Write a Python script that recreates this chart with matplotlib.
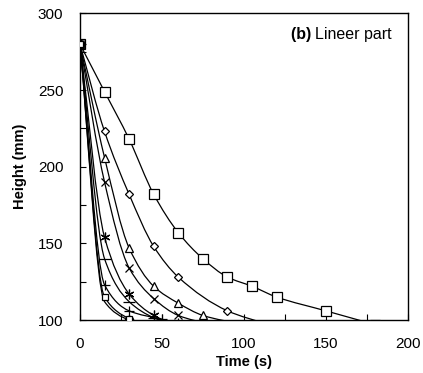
import numpy as np
import matplotlib
matplotlib.use("Agg")
import matplotlib.pyplot as plt
from matplotlib.path import Path
from matplotlib.patches import PathPatch

plt.rcParams['font.family'] = ['Liberation Sans', 'DejaVu Sans']

# time (s) and height (mm)
t_square = [0, 15, 30, 45, 60, 75, 90, 105, 120, 150, 180]
h_square = [280, 249, 218, 182, 157, 140, 128, 122, 115, 106, 97]
t_diamond = [0, 15, 30, 45, 60, 90, 115]
h_diamond = [280, 223, 182, 148, 128, 106, 97]
t_triangle = [0, 15, 30, 45, 60, 75, 100]
h_triangle = [280, 206, 147, 122, 111, 103, 97]
t_cross = [0, 15, 30, 45, 60, 80]
h_cross = [280, 190, 134, 114, 103, 97]
t_star = [0, 15, 30, 45, 60]
h_star = [280, 154, 117, 103, 96]
t_dash = [0, 15, 30, 45, 60]
h_dash = [280, 140, 112, 101.5, 96]
t_plus = [0, 15, 30, 50, 60]
h_plus = [280, 123, 106, 100.5, 98]
t_circle = [0, 15, 30, 40]
h_circle = [280, 112, 100, 97]
t_small = [0, 15, 30, 45]
h_small = [280, 115, 101, 96]

# (t, h, marker, size, which markers are visible)
series = [
    (t_square, h_square, 's', 7, None),
    (t_diamond, h_diamond, 'D', 4, None),
    (t_triangle, h_triangle, '^', 6, None),
    (t_cross, h_cross, 'x', 6, None),
    (t_star, h_star, (6, 2, 0), 7, None),
    (t_dash, h_dash, '_', 8, None),
    (t_plus, h_plus, '+', 7, None),
    (t_circle, h_circle, 'o', 6, [0, 2, 3]),
    (t_small, h_small, 's', 4.5, None),
]


def smooth_path(x, y):
    # smoothed line through the points, monotone tangents (no overshoot)
    x = np.asarray(x, float)
    y = np.asarray(y, float)
    dx = np.diff(x)
    s = np.diff(y) / dx
    m = np.zeros_like(y)
    m[0], m[-1] = s[0], s[-1]
    for i in range(1, len(x) - 1):
        if s[i - 1] * s[i] > 0:
            w1 = 2 * dx[i] + dx[i - 1]
            w2 = dx[i] + 2 * dx[i - 1]
            m[i] = (w1 + w2) / (w1 / s[i - 1] + w2 / s[i])
    verts = [(x[0], y[0])]
    codes = [Path.MOVETO]
    for i in range(len(x) - 1):
        h = dx[i] / 3
        verts += [(x[i] + h, y[i] + m[i] * h),
                  (x[i + 1] - h, y[i + 1] - m[i + 1] * h),
                  (x[i + 1], y[i + 1])]
        codes += [Path.CURVE4] * 3
    return Path(verts, codes)


fig = plt.figure(figsize=(4.23, 3.73), dpi=100)
ax = fig.add_axes([0.189, 0.142, 0.775, 0.822])

for t, h, mk, ms, every in series:
    ax.add_patch(PathPatch(smooth_path(t, h), fill=False, ec='black', lw=0.9, zorder=2))
    ax.plot(t, h, linestyle='none', marker=mk, ms=ms, mfc='white', mec='black',
            mew=0.9, markevery=every, zorder=3)

ax.set_xlim(0, 200)
ax.set_ylim(100, 300)
ax.set_xticks([0, 50, 100, 150, 200])
ax.set_yticks([100, 150, 200, 250, 300])
ax.set_xticks(np.arange(0, 201, 25), minor=True)
ax.set_yticks(np.arange(100, 301, 25), minor=True)
ax.tick_params(which='both', direction='in', length=4, width=0.8, labelsize=11)
ax.tick_params(axis='x', pad=12)
ax.tick_params(axis='y', pad=12)
for sp in ax.spines.values():
    sp.set_linewidth(1.0)

ax.set_xlabel('Time (s)', fontsize=10.5, fontweight='bold', labelpad=3)
ax.set_ylabel('Height (mm)', fontsize=10.5, fontweight='bold', labelpad=8)

lbl = ax.text(0.952, 0.955, 'Lineer part', transform=ax.transAxes,
              ha='right', va='top', fontsize=11.5)
ax.annotate('(b) ', xy=(0, 0), xycoords=lbl, ha='right', va='bottom',
            fontsize=11.5, fontweight='bold')

fig.savefig('out.png', dpi=100)
